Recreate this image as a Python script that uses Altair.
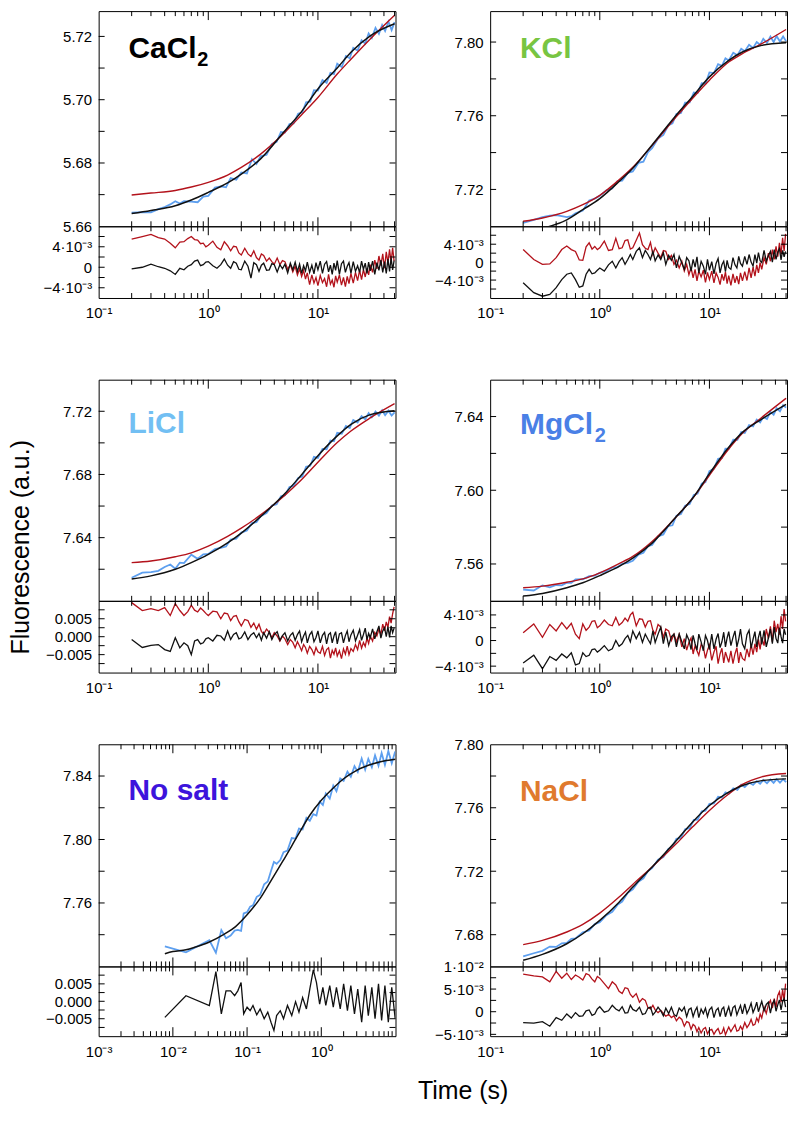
import altair as alt
import pandas as pd

FONT = "Liberation Sans"
C_DATA = "#5d9fef"
C_RED = "#b3121b"
C_BLACK = "#111111"

# ---------------- time grids ----------------
T = [0.2, 0.25, 0.3, 0.35, 0.4, 0.45, 0.5, 0.55, 0.6, 0.7, 0.8, 0.9, 1.0, 1.15, 1.3, 1.45, 1.6, 1.8, 2.0,
     2.25, 2.5, 2.75, 3.0, 3.4, 3.8, 4.2, 4.6, 5.0, 5.5, 6.0, 6.6, 7.2, 7.8, 8.5, 9.2, 10, 11, 12, 13, 14,
     15, 16.5, 18, 19.5, 21, 23, 25, 27, 29, 31, 33.5, 36, 38.5, 41, 44, 47, 50]
TR = [0.2, 0.25, 0.3, 0.35, 0.4, 0.45, 0.5, 0.55, 0.6, 0.65, 0.7, 0.75, 0.8, 0.85, 0.9, 0.95,
      1.0, 1.1, 1.2, 1.3, 1.4, 1.5, 1.6, 1.7, 1.8, 1.9, 2.0, 2.15, 2.3, 2.45, 2.6, 2.75, 2.9, 3.05,
      3.2, 3.4, 3.6, 3.8, 4.0, 4.25, 4.5, 4.75,
      5.0, 5.3, 5.6, 5.9, 6.2, 6.5, 6.8, 7.1, 7.4, 7.7, 8.0, 8.4, 8.8, 9.2, 9.6, 10,
      10.5, 11, 11.5, 12, 12.5, 13, 13.5, 14, 14.5, 15,
      15.7, 16.4, 17.1, 17.8, 18.5, 19.2, 20,
      21, 22, 23, 24, 25, 26, 27, 28, 29, 30,
      31.5, 33, 34.5, 36, 37.5, 39, 40.5, 42, 43.5, 45, 46.5, 48, 49.5]
TF = [0.2, 0.3, 0.5, 0.7, 1, 1.5, 2, 3, 5, 7, 10, 15, 20, 30, 50]
TN = [0.0078, 0.015, 0.031, 0.038, 0.045, 0.052, 0.06, 0.068, 0.075, 0.083, 0.09, 0.1, 0.11, 0.12, 0.135,
      0.15, 0.17, 0.19, 0.21, 0.23, 0.25, 0.28, 0.31, 0.35, 0.4, 0.45, 0.5, 0.56, 0.63, 0.7, 0.78, 0.86,
      0.95, 1.05, 1.15, 1.3, 1.45, 1.6, 1.8, 2.0, 2.25, 2.5, 2.8, 3.1, 3.5, 3.9, 4.3, 4.8, 5.3, 5.9, 6.5,
      7.2, 8.0, 8.9, 9.9]
TNF = [0.0078, 0.01, 0.015, 0.02, 0.03, 0.05, 0.07, 0.1, 0.15, 0.2, 0.3, 0.5, 0.7, 1, 1.5, 2, 3, 5, 7, 10]

# ---------------- CaCl2 ----------------
CA_DATA = [5.6643, 5.6645, 5.6644, 5.6654, 5.6661, 5.6669, 5.6679, 5.6672, 5.6679, 5.6678,
           5.6676, 5.6694, 5.6696, 5.6722, 5.6726, 5.6723, 5.6752, 5.6747, 5.6770, 5.6767,
           5.6812, 5.6797, 5.6821, 5.6826, 5.6860, 5.6867, 5.6898, 5.6896, 5.6923, 5.6925,
           5.6956, 5.6960, 5.6992, 5.6994, 5.7030, 5.7029, 5.7062, 5.7053, 5.7085, 5.7081,
           5.7114, 5.7103, 5.7138, 5.7131, 5.7164, 5.7155, 5.7188, 5.7177, 5.7209, 5.7195,
           5.7227, 5.7208, 5.7236, 5.7217, 5.7247, 5.7220, 5.7245]
CA_FIT_BLACK = [5.6640, 5.6650, 5.6665, 5.6683, 5.6707, 5.6737, 5.6765, 5.6813, 5.6902, 5.6960,
                5.7034, 5.7100, 5.7150, 5.7202, 5.7240]
CA_FIT_RED = [5.6699, 5.6705, 5.6713, 5.6724, 5.6739, 5.6762, 5.6786, 5.6828, 5.6897, 5.6950,
              5.7007, 5.7081, 5.7128, 5.7192, 5.7267]
CA_RES_RED = [5.5, 6.0, 6.4, 5.8, 5.5, 4.7, 3.8, 4.9, 5.0, 5.6, 6.0, 5.4, 5.3, 4.6, 4.7, 4.0,
              4.3, 5.1, 3.9, 3.4, 5.0, 4.2, 3.2, 4.1, 4.0, 2.8, 2.4, 3.7, 2.6, 2.1, 3.2, 1.9, 1.4, 2.6,
              2.3, 1.2, 1.8, 1.1, 0.6, 1.8, 0.5, 1.3,
              1.1, -0.4, 0.5, -0.9, 0.2, -1.5, -0.3, -1.8, -0.6, -2.3, -1.1, -3.4, -1.5, -3.1, -2.0, -3.6,
              -1.6, -3.0, -2.2, -3.8, -1.4, -3.3, -2.5, -3.9, -1.7, -2.9,
              -1.5, -3.5, -2.0, -3.8, -1.8, -3.2, -1.2,
              -3.1, -1.0, -2.6, -0.6, -2.4, -0.4, -1.9, -0.2, -1.5, 0.5,
              -1.0, 1.4, -0.3, 2.2, 0.3, 2.6, -0.2, 3.0, 0.8, 3.5, 1.0, 3.8, 1.2]
CA_RES_BLACK = [-0.3, 0.0, 0.6, 0.1, -0.2, -0.7, -1.4, -0.2, -0.5, 0.2, 0.5, 1.2, 1.4, 0.3, 0.5, 1.0,
                1.1, 0.3, -0.2, 0.5, 1.6, 0.4, -0.2, 1.1, 0.8, -0.4, -0.5, 1.2, 0.2, -2.1, 0.9, 0.5,
                -0.8, 0.4, 0.8, -0.6, -0.5, 0.7, 0.5, -0.9, 0.5, -0.3,
                0.6, -1.1, 0.8, -0.5, 1.0, -0.8, 0.6, -1.2, 0.3, -0.7, 1.0, -1.0, 0.4, -1.3, 0.9, -0.5,
                1.2, -1.2, 0.6, 1.1, -0.9, 0.4, -1.4, 0.8, -0.6, 1.3,
                -1.4, 0.7, 1.2, -1.0, 0.2, 0.9, -1.2,
                1.1, -0.8, 0.3, -1.0, 1.2, -0.4, 0.8, -1.2, 1.0, -0.7,
                1.2, -1.4, 0.9, -0.6, 1.4, -1.0, 1.1, -1.2, 1.6, -0.8, 1.8, -0.5, 1.3]

# ---------------- KCl ----------------
KC_DATA = [7.7018, 7.7035, 7.7050, 7.7058, 7.7060, 7.7055, 7.7050, 7.7055, 7.7070, 7.7085,
           7.7140, 7.7150, 7.7165, 7.7195, 7.7205, 7.7245, 7.7248, 7.7290, 7.7298, 7.7344,
           7.7351, 7.7402, 7.7424, 7.7476, 7.7496, 7.7547, 7.7559, 7.7609, 7.7615, 7.7671,
           7.7672, 7.7726, 7.7723, 7.7777, 7.7774, 7.7835, 7.7831, 7.7880, 7.7871, 7.7912,
           7.7900, 7.7942, 7.7928, 7.7963, 7.7950, 7.7985, 7.7968, 7.8000, 7.7985, 7.8018,
           7.7995, 7.8030, 7.8000, 7.8032, 7.8003, 7.8030, 7.8005]
KC_FIT_BLACK = [7.6965, 7.6988, 7.7035, 7.7090, 7.7150, 7.7243, 7.7315, 7.7441, 7.7604, 7.7703,
                7.7811, 7.7901, 7.7946, 7.7982, 7.7996]
KC_FIT_RED = [7.7027, 7.7045, 7.7081, 7.7117, 7.7168, 7.7252, 7.7320, 7.7438, 7.7595, 7.7694,
              7.7793, 7.7892, 7.7937, 7.7991, 7.8068]
KC_RES_RED = [2.8, 0.6, -0.5, -0.4, 1.0, 2.8, 3.6, 2.8, 2.4, 0.5, 0.4, 3.4, 4.3, 2.9, 3.5, 2.8,
              3.2, 4.7, 2.6, 2.8, 5.3, 3.0, 3.2, 4.8, 5.0, 2.9, 3.2, 4.9, 6.5, 3.9, 3.1, 2.8, 4.4, 1.7,
              3.2, 2.0, 1.0, 2.6, 2.4, 0.6, 1.5, -0.5,
              0.4, -1.3, 0.2, -2.0, -0.5, -2.8, -1.2, -3.5, -1.6, -4.2, -2.0, -3.3, -1.8, -4.5, -2.3, -3.9,
              -2.0, -4.6, -2.4, -3.4, -5.0, -2.7, -4.1, -2.2, -4.8, -3.0,
              -5.2, -2.6, -4.6, -3.1, -4.9, -2.4, -4.2,
              -2.1, -4.1, -1.3, -3.5, -1.1, -3.1, -0.6, -2.4, -0.1, -1.6,
              1.0, -0.5, 2.0, 0.2, 2.8, 0.6, 3.5, 1.2, 4.3, 1.7, 5.4, 2.5, 6.3]
KC_RES_BLACK = [-4.6, -6.8, -7.6, -7.2, -5.7, -3.9, -2.7, -2.4, -3.9, -5.6, -5.3, -2.7, -1.6, -2.6, -2.4,
                -1.8,
                -1.3, -2.0, -0.6, 0.2, -1.3, 0.1, 1.0, -0.5, 0.6, 1.7, 0.6, 2.4, 3.2, 1.0, 2.6, 1.7, 0.6,
                2.4, 0.3, 1.6, 0.6, 2.1, -0.5, 1.5, 0.4, 1.7,
                -1.3, 1.3, -0.2, -1.6, 1.0, 0.3, -2.0, 0.6, -1.1, 1.2, -2.4, 0.2, -0.9, -2.7, 0.6, -1.8,
                0.1, -2.6, -0.3, 0.8, -2.4, -0.6, 0.2, -2.1, 0.4, -1.2,
                -1.6, 1.0, -0.6, -1.3, 1.3, -0.3, -0.9,
                1.3, -0.5, 1.7, 0.0, -0.9, 1.7, -0.2, 2.1, 0.3, -0.1,
                2.6, 0.2, 1.4, 2.4, 0.0, 2.8, 0.6, 2.2, 3.0, 0.5, 2.6, 1.2, 2.4]

# ---------------- LiCl ----------------
LI_DATA = [7.6146, 7.6178, 7.6182, 7.6190, 7.6214, 7.6230, 7.6203, 7.6242, 7.6239, 7.6292,
           7.6266, 7.6294, 7.6297, 7.6328, 7.6335, 7.6344, 7.6388, 7.6393, 7.6432, 7.6445,
           7.6492, 7.6498, 7.6536, 7.6555, 7.6603, 7.6611, 7.6662, 7.6668, 7.6721, 7.6727,
           7.6778, 7.6787, 7.6849, 7.6855, 7.6912, 7.6905, 7.6962, 7.6959, 7.7015, 7.7010,
           7.7064, 7.7058, 7.7107, 7.7094, 7.7145, 7.7129, 7.7170, 7.7149, 7.7188, 7.7163,
           7.7199, 7.7172, 7.7206, 7.7175, 7.7204, 7.7173, 7.7193]
LI_FIT_BLACK = [7.6138, 7.6158, 7.6200, 7.6242, 7.6294, 7.6367, 7.6429, 7.6533, 7.6679, 7.6794,
                7.6919, 7.7044, 7.7117, 7.7179, 7.7204]
LI_FIT_RED = [7.6242, 7.6252, 7.6279, 7.6304, 7.6346, 7.6408, 7.6460, 7.6544, 7.6669, 7.6763,
              7.6877, 7.7002, 7.7075, 7.7158, 7.7248]
LI_RES_RED = [9.5, 7.3, 7.8, 7.3, 8.1, 5.9, 9.2, 7.3, 5.9, 7.0, 8.8, 7.4, 6.9, 8.0, 7.3, 6.5,
              5.9, 7.1, 6.9, 5.0, 6.6, 6.4, 4.5, 5.7, 5.9, 4.2, 3.0, 4.8, 4.5, 2.6, 3.8, 2.1, 3.5, 1.5,
              0.7, 2.1, 1.2, -0.3, 1.1, 0.2, -1.2, 0.2,
              -0.6, -2.2, -0.8, -1.6, -3.1, -1.4, -2.6, -3.9, -2.2, -3.0, -4.6, -2.7, -3.6, -5.0, -3.0, -4.2,
              -4.6, -2.7, -5.2, -3.6, -3.1, -6.0, -3.8, -4.9, -3.1, -5.4,
              -3.9, -6.1, -3.4, -4.9, -2.6, -5.0, -3.3,
              -4.1, -2.2, -3.6, -1.0, -3.2, -1.6, -2.7, -0.4, -1.9, 0.2,
              -1.2, 1.2, 0.2, 2.1, 0.6, 3.5, 1.6, 4.1, 2.6, 5.6, 3.8, 6.4, 8.3]
LI_RES_BLACK = [-0.8, -3.0, -2.4, -2.2, -3.6, -4.1, -0.3, -3.1, -1.7, -2.5, -5.0, -1.2, -0.8, -2.0, -1.7,
                -0.6,
                -0.3, -1.2, 0.4, 0.2, -1.0, 1.6, -0.8, 0.6, 1.1, -0.6, -0.3, 1.3, -0.8, 0.5, 1.1, -0.3,
                0.9, -1.0, 1.1, -0.4, 1.4, -0.8, 0.6, 1.4, -1.0, 0.3,
                1.1, -1.2, 0.4, 1.1, -1.0, 0.6, 1.6, -1.4, 0.2, 1.3, -1.7, 0.5, 1.4, -1.4, -0.2, 1.6,
                -1.7, 0.4, 1.2, -2.0, 0.6, 1.1, -1.7, 0.2, 1.4, -2.0,
                0.8, 1.1, -1.7, 0.3, 1.6, -1.4, 0.5,
                1.8, -1.2, 0.4, 2.0, -1.0, 0.6, 2.4, -0.8, 0.9, -0.3,
                2.2, -0.6, 1.4, 3.0, -0.4, 1.6, 2.5, 0.0, 2.8, -0.2, 3.0, 1.1, 2.4]

# ---------------- MgCl2 ----------------
MG_DATA = [7.5461, 7.5456, 7.5484, 7.5473, 7.5486, 7.5484, 7.5498, 7.5497, 7.5516, 7.5517,
           7.5534, 7.5537, 7.5552, 7.5562, 7.5581, 7.5582, 7.5601, 7.5606, 7.5617, 7.5651,
           7.5661, 7.5697, 7.5703, 7.5750, 7.5760, 7.5806, 7.5810, 7.5862, 7.5871, 7.5916,
           7.5925, 7.5975, 7.5982, 7.6036, 7.6045, 7.6104, 7.6117, 7.6171, 7.6174, 7.6226,
           7.6225, 7.6274, 7.6273, 7.6316, 7.6311, 7.6354, 7.6347, 7.6383, 7.6368, 7.6398,
           7.6387, 7.6425, 7.6410, 7.6445, 7.6429, 7.6462, 7.6448]
MG_FIT_BLACK = [7.5426, 7.5440, 7.5471, 7.5498, 7.5537, 7.5587, 7.5632, 7.5713, 7.5857, 7.5955,
                7.6090, 7.6233, 7.6314, 7.6386, 7.6466]
MG_FIT_RED = [7.5471, 7.5480, 7.5501, 7.5519, 7.5552, 7.5602, 7.5641, 7.5722, 7.5857, 7.5955,
              7.6081, 7.6224, 7.6309, 7.6395, 7.6499]
MG_RES_RED = [1.2, 2.6, 0.5, 2.5, 1.5, 2.8, 1.8, 2.7, 1.0, 0.3, 2.6, 1.6, 2.1, 3.0, 3.1, 2.0,
              2.3, 3.2, 2.5, 2.3, 3.6, 2.4, 2.8, 3.5, 3.0, 4.0, 4.4, 2.3, 3.4, 3.3, 2.1, 3.0, 3.1, 1.6,
              1.0, 2.5, 2.1, 0.5, 1.8, 1.5, 0.0, 1.0,
              -0.2, 1.0, -1.0, 0.3, -1.5, -0.3, 0.4, -2.1, -0.8, -1.6, -2.3, -0.6, -1.0, -2.8, -1.5, -0.7,
              -3.1, -1.8, -0.9, -3.6, -2.1, -1.2, -3.5, -1.8, -2.6, -3.4,
              -1.6, -3.6, -2.1, -1.1, -3.5, -1.8, -2.8,
              -3.1, -1.3, -2.6, -0.6, -2.2, -0.5, -1.8, 0.2, -1.4, 0.5,
              -0.8, 1.8, 0.3, 2.2, -0.2, 3.1, 1.3, 2.6, 0.9, 3.8, 1.8, 4.9, 3.0]
MG_RES_BLACK = [-3.5, -2.3, -4.4, -2.5, -3.1, -2.1, -2.7, -1.9, -3.8, -3.6, -1.9, -2.5, -2.3, -1.4, -1.3,
                -1.8,
                -1.5, -0.8, -1.6, -1.3, 0.0, -0.9, -0.5, 0.3, 0.8, -0.2, 1.5, 0.3, 1.3, -0.3, 1.0, 0.2,
                -0.5, 1.5, -0.3, 1.0, 2.1, -0.5, 1.3, -0.8, 0.6, 1.0,
                -1.0, 1.0, -0.2, -1.3, 0.9, 0.1, -1.4, 0.8, -0.5, -1.5, 1.0, -0.2, -1.6, 0.8, 0.0, -1.4,
                1.0, -1.3, 0.2, 1.1, -1.1, -0.2, 1.3, -1.0, 0.4, 1.4,
                -0.8, 0.5, 1.5, -1.0, 0.2, 1.8, -0.5,
                -1.3, 0.9, 1.6, -1.2, 0.2, 1.4, -1.0, 0.5, 1.5, -0.6,
                1.6, -1.0, 0.4, 1.8, -0.5, 2.1, 0.3, -0.4, 2.0, 0.6, -0.4, 1.8, 0.9]

# ---------------- No salt ----------------
NS_DATA = [7.7326, 7.7289, 7.7365, 7.7287, 7.7429, 7.7378, 7.7395, 7.7426, 7.7430, 7.7424,
           7.7534, 7.7542, 7.7577, 7.7585, 7.7639, 7.7651, 7.7718, 7.7735, 7.7801, 7.7859,
           7.7847, 7.7870, 7.7920, 7.7930, 7.8009, 7.8006, 7.8069, 7.8064, 7.8137, 7.8118,
           7.8160, 7.8151, 7.8238, 7.8218, 7.8290, 7.8258, 7.8340, 7.8304, 7.8385, 7.8370,
           7.8427, 7.8395, 7.8462, 7.8425, 7.8510, 7.8440, 7.8508, 7.8455, 7.8530, 7.8465,
           7.8545, 7.8470, 7.8558, 7.8480, 7.8555]
NS_FIT_BLACK = [7.7280, 7.7294, 7.7305, 7.7322, 7.7351, 7.7405, 7.7451, 7.7525, 7.7629, 7.7724,
                7.7860, 7.8038, 7.8153, 7.8247, 7.8331, 7.8383, 7.8436, 7.8477, 7.8494, 7.8505]
NS_RES_BLACK = [-4.6, 1.6, -1.2, 8.5, -3.6, 3.0, 3.0, 1.6, 3.0, 5.4, -3.6, -1.7, -2.7, -1.2, -3.9, -2.2,
                -5.0, -3.1, -6.0, -8.4, -4.1, -2.7, -5.0, -1.2, -4.1, -0.1, -3.1, 1.1, -2.2, 3.5, 9.0,
                5.4, -0.8, 4.0, -1.2, 4.5, -1.7, 4.0, -2.2, 5.0, -2.7, 4.5, -3.6, 3.5, -6.0, 4.5, -4.1,
                4.0, -5.0, 5.0, -5.5, 4.5, -6.0, 4.0, -5.0]

# ---------------- NaCl ----------------
NA_DATA = [7.6663, 7.6683, 7.6698, 7.6725, 7.6723, 7.6746, 7.6748, 7.6774, 7.6777, 7.6815,
           7.6826, 7.6867, 7.6879, 7.6923, 7.6944, 7.6988, 7.7009, 7.7064, 7.7086, 7.7134,
           7.7155, 7.7201, 7.7219, 7.7273, 7.7290, 7.7339, 7.7356, 7.7404, 7.7410, 7.7464,
           7.7472, 7.7523, 7.7525, 7.7578, 7.7582, 7.7625, 7.7627, 7.7669, 7.7665, 7.7697,
           7.7688, 7.7723, 7.7713, 7.7745, 7.7730, 7.7759, 7.7744, 7.7768, 7.7751, 7.7775,
           7.7755, 7.7778, 7.7757, 7.7780, 7.7758, 7.7780, 7.7761]
NA_FIT_BLACK = [7.6639, 7.6676, 7.6743, 7.6806, 7.6890, 7.7005, 7.7100, 7.7227, 7.7394, 7.7509,
                7.7614, 7.7698, 7.7740, 7.7771, 7.7782]
NA_FIT_RED = [7.6737, 7.6764, 7.6817, 7.6865, 7.6936, 7.7037, 7.7117, 7.7227, 7.7374, 7.7478,
              7.7583, 7.7687, 7.7747, 7.7795, 7.7816]
NA_RES_RED = [8.3, 7.9, 7.7, 6.6, 8.9, 7.4, 8.5, 7.1, 8.1, 7.6, 7.0, 8.4, 8.1, 7.2, 6.6, 7.8,
              7.4, 6.2, 5.1, 6.6, 5.9, 4.5, 4.0, 5.3, 5.1, 3.8, 3.2, 4.0, 2.1, 2.9, 2.5, 0.9, 0.6, 1.4,
              0.4, -0.2, 0.3, -0.4, -1.0, -0.6, -1.3, -0.9,
              -2.0, -1.2, -1.7, -3.2, -2.2, -2.4, -3.9, -2.8, -3.2, -4.4, -3.5, -4.7, -3.8, -3.5, -4.9, -4.1,
              -3.9, -5.0, -4.2, -3.7, -4.9, -4.7, -3.6, -5.1, -4.2, -3.4,
              -4.4, -3.6, -2.9, -4.3, -4.1, -3.2, -4.0,
              -2.4, -3.5, -2.8, -1.7, -3.0, -2.8, -1.4, -2.2, -0.5, -1.4,
              1.0, -0.4, 1.6, 2.5, 0.8, 2.9, 1.0, 3.6, 4.4, 2.1, 4.9, 2.5, 6.2]
NA_RES_BLACK = [-2.4, -2.5, -2.2, -3.2, -1.3, -1.9, -0.5, -1.4, -0.2, -1.0, -0.9, 0.2, 0.4, -0.8, -0.5,
                0.6,
                1.1, -0.1, 0.2, 1.4, 0.6, 0.2, 1.1, -0.3, -0.2, 1.4, 0.5, 0.1, 1.0, -0.6, -0.4, 0.8,
                1.0, -0.7, -0.1, 1.0, 0.2, -0.9, 0.8, -0.4, 1.0, -0.6,
                -1.0, 0.8, 0.1, 1.0, -1.1, 0.5, 0.8, -1.1, 0.2, 1.0, -1.3, 0.6, -0.4, 0.8, -1.1, 0.4,
                1.0, -1.3, 0.3, 0.8, -1.1, 0.6, 1.0, -1.1, 0.1, 1.1,
                -1.0, 0.9, 1.3, -0.7, 0.4, 1.4, -0.5,
                1.7, -0.4, 0.6, 1.9, -0.2, 0.8, 2.1, 0.0, 1.2, 2.3,
                0.2, 1.6, 2.1, -0.3, 1.8, 2.5, 0.1, 1.5, 2.6, 0.4, 2.2, 2.9, 1.0]

# ---------------- tick values ----------------
X_LABELS_A = [0.1, 1, 10]
X_MAJOR_A = [1, 10]
X_MINOR_A = [0.2, 0.3, 0.4, 0.5, 0.6, 0.7, 0.8, 0.9, 2, 3, 4, 5, 6, 7, 8, 9, 20, 30, 40, 50]
X_LABELS_N = [0.001, 0.01, 0.1, 1]
X_MAJOR_N = [0.01, 0.1, 1]
X_MINOR_N = [0.002, 0.003, 0.004, 0.005, 0.006, 0.007, 0.008, 0.009,
             0.02, 0.03, 0.04, 0.05, 0.06, 0.07, 0.08, 0.09,
             0.2, 0.3, 0.4, 0.5, 0.6, 0.7, 0.8, 0.9, 2, 3, 4, 5, 6, 7, 8, 9]

X_LABEL_EXPR = ("datum.value == 0.001 ? '10⁻³' : datum.value == 0.01 ? '10⁻²' : "
                "datum.value == 0.1 ? '10⁻¹' : datum.value == 1 ? '10⁰' : '10¹'")
SCI_EXPR = ("datum.value == 10 ? '1·10⁻²' : datum.value == 0 ? '0' : "
            "(datum.value < 0 ? '−' : '') + abs(datum.value) + '·10⁻³'")
DEC_EXPR = "format(datum.value / 1000, '.3f')"

W = 298

PANELS = {
    "ca": dict(name="CaCl", sub="2", sub_dx=69, color="#000000", lab_y=47,
               t=T, data=CA_DATA, tf=TF, black=CA_FIT_BLACK, red=CA_FIT_RED,
               tr=TR, rres=CA_RES_RED, bres=CA_RES_BLACK,
               xdom=[0.1, 51], ydom=[5.66, 5.728], rdom=[-6, 8], h=216, hr=72,
               ylab=[5.66, 5.68, 5.70, 5.72], ytk=[5.67, 5.68, 5.69, 5.70, 5.71, 5.72],
               rlab=[-4, 0, 4], rtk=[-4, -2, 0, 2, 4, 6], rexpr=SCI_EXPR,
               xlab=X_LABELS_A, xmaj=X_MAJOR_A, xmin=X_MINOR_A),
    "kc": dict(name="KCl", sub="", sub_dx=0, color="#78c542", lab_y=47,
               t=T, data=KC_DATA, tf=TF, black=KC_FIT_BLACK, red=KC_FIT_RED,
               tr=TR, rres=KC_RES_RED, bres=KC_RES_BLACK,
               xdom=[0.1, 51], ydom=[7.70, 7.8168], rdom=[-8, 8], h=216, hr=72,
               ylab=[7.72, 7.76, 7.80], ytk=[7.72, 7.74, 7.76, 7.78, 7.80],
               rlab=[-4, 0, 4], rtk=[-6, -4, -2, 0, 2, 4, 6], rexpr=SCI_EXPR,
               xlab=X_LABELS_A, xmaj=X_MAJOR_A, xmin=X_MINOR_A),
    "li": dict(name="LiCl", sub="", sub_dx=0, color="#72bff3", lab_y=54,
               t=T, data=LI_DATA, tf=TF, black=LI_FIT_BLACK, red=LI_FIT_RED,
               tr=TR, rres=LI_RES_RED, bres=LI_RES_BLACK,
               xdom=[0.1, 51], ydom=[7.60, 7.74], rdom=[-10, 10], h=222, hr=72,
               ylab=[7.64, 7.68, 7.72], ytk=[7.62, 7.64, 7.66, 7.68, 7.70, 7.72],
               rlab=[-5, 0, 5], rtk=[-7.5, -5, -2.5, 0, 2.5, 5, 7.5], rexpr=DEC_EXPR,
               xlab=X_LABELS_A, xmaj=X_MAJOR_A, xmin=X_MINOR_A),
    "mg": dict(name="MgCl", sub="2", sub_dx=75, color="#4a80e6", lab_y=55,
               t=T, data=MG_DATA, tf=TF, black=MG_FIT_BLACK, red=MG_FIT_RED,
               tr=TR, rres=MG_RES_RED, bres=MG_RES_BLACK,
               xdom=[0.1, 51], ydom=[7.54, 7.66], rdom=[-5, 6.2], h=222, hr=72,
               ylab=[7.56, 7.60, 7.64], ytk=[7.56, 7.58, 7.60, 7.62, 7.64],
               rlab=[-4, 0, 4], rtk=[-4, -2, 0, 2, 4], rexpr=SCI_EXPR,
               xlab=X_LABELS_A, xmaj=X_MAJOR_A, xmin=X_MINOR_A),
    "ns": dict(name="No salt", sub="", sub_dx=0, color="#3d14dc", lab_y=56,
               t=TN, data=NS_DATA, tf=TNF, black=NS_FIT_BLACK, red=None,
               tr=TN, rres=None, bres=NS_RES_BLACK,
               xdom=[0.001, 10], ydom=[7.72, 7.86], rdom=[-10, 10], h=223, hr=70,
               ylab=[7.76, 7.80, 7.84], ytk=[7.74, 7.76, 7.78, 7.80, 7.82, 7.84],
               rlab=[-5, 0, 5], rtk=[-7.5, -5, -2.5, 0, 2.5, 5, 7.5], rexpr=DEC_EXPR,
               xlab=X_LABELS_N, xmaj=X_MAJOR_N, xmin=X_MINOR_N),
    "na": dict(name="NaCl", sub="", sub_dx=0, color="#e07a2e", lab_y=57,
               t=T, data=NA_DATA, tf=TF, black=NA_FIT_BLACK, red=NA_FIT_RED,
               tr=TR, rres=NA_RES_RED, bres=NA_RES_BLACK,
               xdom=[0.1, 51], ydom=[7.66, 7.80], rdom=[-5.4, 10], h=223, hr=70,
               ylab=[7.68, 7.72, 7.76, 7.80], ytk=[7.68, 7.70, 7.72, 7.74, 7.76, 7.78],
               rlab=[-5, 0, 5, 10], rtk=[-5, -2.5, 0, 2.5, 5, 7.5], rexpr=SCI_EXPR,
               xlab=X_LABELS_A, xmaj=X_MAJOR_A, xmin=X_MINOR_A),
}

for p in PANELS.values():
    assert len(p["t"]) == len(p["data"])
    assert len(p["tr"]) == len(p["bres"])
    if p["rres"] is not None:
        assert len(p["tr"]) == len(p["rres"])
    assert len(p["tf"]) == len(p["black"])


def line_layer(t, v, xs, ys, xax, yax, color, width, interp="linear"):
    df = pd.DataFrame({"t": t, "v": v})
    return alt.Chart(df).mark_line(color=color, strokeWidth=width, clip=True,
                                   interpolate=interp).encode(
        x=alt.X("t:Q", scale=xs, axis=xax),
        y=alt.Y("v:Q", scale=ys, axis=yax))


def xtick_layer(vals, xs, xax, y0, y1):
    df = pd.DataFrame({"tv": vals})
    return alt.Chart(df).mark_rule(color="black", strokeWidth=1).encode(
        x=alt.X("tv:Q", scale=xs, axis=xax), y=alt.value(y0), y2=alt.value(y1))


def ytick_layer(vals, ys, yax, x0, x1):
    df = pd.DataFrame({"yv": vals})
    return alt.Chart(df).mark_rule(color="black", strokeWidth=1).encode(
        y=alt.Y("yv:Q", scale=ys, axis=yax), x=alt.value(x0), x2=alt.value(x1))


def text_layer(s, x, y, size, color):
    df = pd.DataFrame({"s": [s]})
    return alt.Chart(df).mark_text(align="left", baseline="alphabetic", fontSize=size,
                                   fontWeight="bold", font=FONT, color=color).encode(
        text="s:N", x=alt.value(x), y=alt.value(y))


def panel(p):
    H, HR = p["h"], p["hr"]
    xs = alt.Scale(type="log", domain=p["xdom"], nice=False)
    ys = alt.Scale(domain=p["ydom"], nice=False, zero=False)
    rs = alt.Scale(domain=p["rdom"], nice=False, zero=False)
    yax = alt.Axis(values=p["ylab"], format=".2f", ticks=False, tickSize=0, domain=False,
                   grid=False, labelPadding=7, title=None, labelFlush=False)
    rax = alt.Axis(values=p["rlab"], labelExpr=p["rexpr"], ticks=False, tickSize=0, domain=False,
                   grid=False, labelPadding=7, title=None, labelFlush=False)
    xax = alt.Axis(values=p["xlab"], labelExpr=X_LABEL_EXPR, ticks=False, tickSize=0,
                   domain=False, grid=False, labelPadding=8, title=None, labelFlush=False)

    layers = [line_layer(p["t"], p["data"], xs, ys, None, yax, C_DATA, 1.8)]
    if p["red"] is not None:
        layers.append(line_layer(p["tf"], p["red"], xs, ys, None, yax, C_RED, 1.4, "monotone"))
    layers.append(line_layer(p["tf"], p["black"], xs, ys, None, yax, C_BLACK, 1.5, "monotone"))
    layers += [
        xtick_layer(p["xmaj"], xs, None, 0, 9), xtick_layer(p["xmin"], xs, None, 0, 5),
        xtick_layer(p["xmaj"], xs, None, H, H - 9), xtick_layer(p["xmin"], xs, None, H, H - 5),
        ytick_layer(p["ytk"], ys, yax, 0, 6), ytick_layer(p["ytk"], ys, yax, W, W - 6),
        text_layer(p["name"], 30, p["lab_y"], 30, p["color"]),
    ]
    if p["sub"]:
        layers.append(text_layer(p["sub"], 30 + p["sub_dx"], p["lab_y"] + 8, 20, p["color"]))
    main = alt.layer(*layers).properties(width=W, height=H)

    rl = []
    if p["rres"] is not None:
        rl.append(line_layer(p["tr"], p["rres"], xs, rs, xax, rax, C_RED, 1.3))
    rl.append(line_layer(p["tr"], p["bres"], xs, rs, xax, rax, C_BLACK, 1.3))
    rl += [
        xtick_layer(p["xmaj"], xs, xax, 0, 9), xtick_layer(p["xmin"], xs, xax, 0, 5),
        xtick_layer(p["xmaj"], xs, xax, HR, HR - 9), xtick_layer(p["xmin"], xs, xax, HR, HR - 5),
        ytick_layer(p["rtk"], rs, rax, 0, 6), ytick_layer(p["rtk"], rs, rax, W, W - 6),
    ]
    res = alt.layer(*rl).properties(width=W, height=HR)
    return main, res


def spacer(h):
    df = pd.DataFrame({"s": [""]})
    return alt.Chart(df).mark_text().encode(text="s:N").properties(
        width=W, height=h, view=alt.ViewBackground(strokeOpacity=0))


cells = []
for a, b, gap in [("ca", "kc", 82), ("li", "mg", 72), ("ns", "na", 0)]:
    ma, ra = panel(PANELS[a])
    mb, rb = panel(PANELS[b])
    cells += [ma, mb, ra, rb]
    if gap:
        cells += [spacer(gap), spacer(gap)]

body = alt.concat(*cells, columns=2, spacing={"row": 0, "column": 95}, bounds="flush",
                  title=alt.TitleParams("Time (s)", orient="bottom", anchor="middle", offset=20,
                                        dx=48, fontSize=25, font=FONT, fontWeight="normal",
                                        color="black")
                  ).resolve_scale(x="independent", y="independent")

chart = alt.vconcat(body,
                    title=alt.TitleParams("Fluorescence (a.u.)", orient="left", anchor="middle",
                                          offset=9, dx=10, fontSize=25, font=FONT,
                                          fontWeight="normal", color="black")
                    ).properties(
    padding={"left": 0, "top": 0, "right": 0, "bottom": 0}
).configure_view(stroke="black", strokeWidth=1).configure_axis(
    labelFont=FONT, labelFontSize=15, labelColor="black")

chart.save("out.html", embed_options={"renderer": "svg", "actions": False})
